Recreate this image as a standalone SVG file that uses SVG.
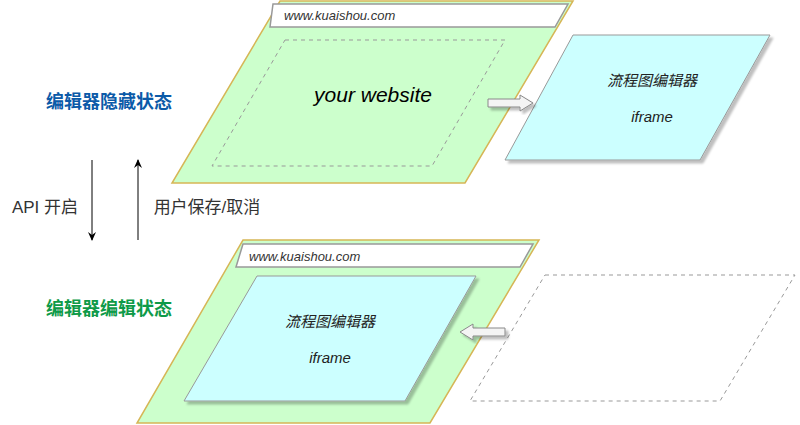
<svg xmlns="http://www.w3.org/2000/svg" width="800" height="425" viewBox="0 0 800 425">
<defs>
<style>
.g{fill:#ccffcc;stroke:#d6b656;stroke-width:1.5}
.bar{fill:#fff;stroke:#999;stroke-width:1.5}
.cy{fill:#ccffff;stroke:#999;stroke-width:1}
.dash{fill:none;stroke:#999;stroke-dasharray:4 4}
.url{font:italic 13px "Liberation Sans",sans-serif;fill:#333}
.t{font-family:"Liberation Sans","Noto Sans CJK SC",sans-serif;font-size:15px;fill:#222;font-style:italic;text-anchor:middle}
.lbl{font-family:"Liberation Sans","Noto Sans CJK SC",sans-serif;font-size:17px;fill:#333;text-anchor:middle}
.blk{fill:#f4f4f4;stroke:#888;stroke-width:1}
</style>
<filter id="sh" x="-10%" y="-10%" width="130%" height="130%"><feDropShadow dx="3" dy="3" stdDeviation="1" flood-color="#000" flood-opacity="0.25"/></filter>
<marker id="ar" markerWidth="10" markerHeight="10" refX="8" refY="5" orient="auto" markerUnits="userSpaceOnUse"><path d="M0,1 L9,5 L0,9 L3,5 Z" fill="#000"/></marker>
</defs>
<g id="top-page">
<polygon class="g" points="280,1 573,1 465,183 172,183"/>
<polygon class="bar" points="273,4 568,4 555,27 270,27"/>
<text class="url" x="284" y="20">www.kuaishou.com</text>
<polygon class="dash" points="285,40 505,40 432,166 212,166"/>
<text x="373" y="102" style="font:italic 21px 'Liberation Sans',sans-serif" text-anchor="middle" fill="#000">your website</text>
</g>
<g id="top-editor">
<polygon class="cy" filter="url(#sh)" points="573,35 770,35 700,160 505,160"/>
<text class="t" x="652" y="86">流程图编辑器</text>
<text class="t" x="652" y="122">iframe</text>
</g>
<g id="bottom-page">
<polygon class="g" points="243,240 539,240 430,423 137,423"/>
<polygon class="bar" points="243,244 533,244 520,267 236,267"/>
<text class="url" x="249" y="261">www.kuaishou.com</text>
</g>
<g id="bottom-editor">
<polygon class="cy" filter="url(#sh)" points="257,276 476,276 405,401 184,401"/>
<text class="t" x="330" y="327">流程图编辑器</text>
<text class="t" x="330" y="363">iframe</text>
</g>
<g id="placeholder">
<polygon class="dash" points="545,275 795,275 720,401 470,401"/>
</g>
<g id="labels">
<text x="109" y="108" style="font:bold 18px 'Liberation Sans','Noto Sans CJK SC',sans-serif" fill="#0b5aa8" text-anchor="middle">编辑器隐藏状态</text>
<text x="109" y="315" style="font:bold 18px 'Liberation Sans','Noto Sans CJK SC',sans-serif" fill="#0e9a48" text-anchor="middle">编辑器编辑状态</text>
<text class="lbl" x="45" y="213">API 开启</text>
<text class="lbl" x="207" y="213">用户保存/取消</text>
</g>
<g id="connectors">
<line x1="92" y1="160" x2="92" y2="240" stroke="#000" marker-end="url(#ar)"/>
<line x1="138" y1="240" x2="138" y2="160" stroke="#000" marker-end="url(#ar)"/>
<polygon class="blk" filter="url(#sh)" points="488,99 520,99 520,95 533,103 520,111 520,107 488,107"/>
<polygon class="blk" filter="url(#sh)" points="505,328 473,328 473,324 460,332 473,340 473,336 505,336"/>
</g>
</svg>
